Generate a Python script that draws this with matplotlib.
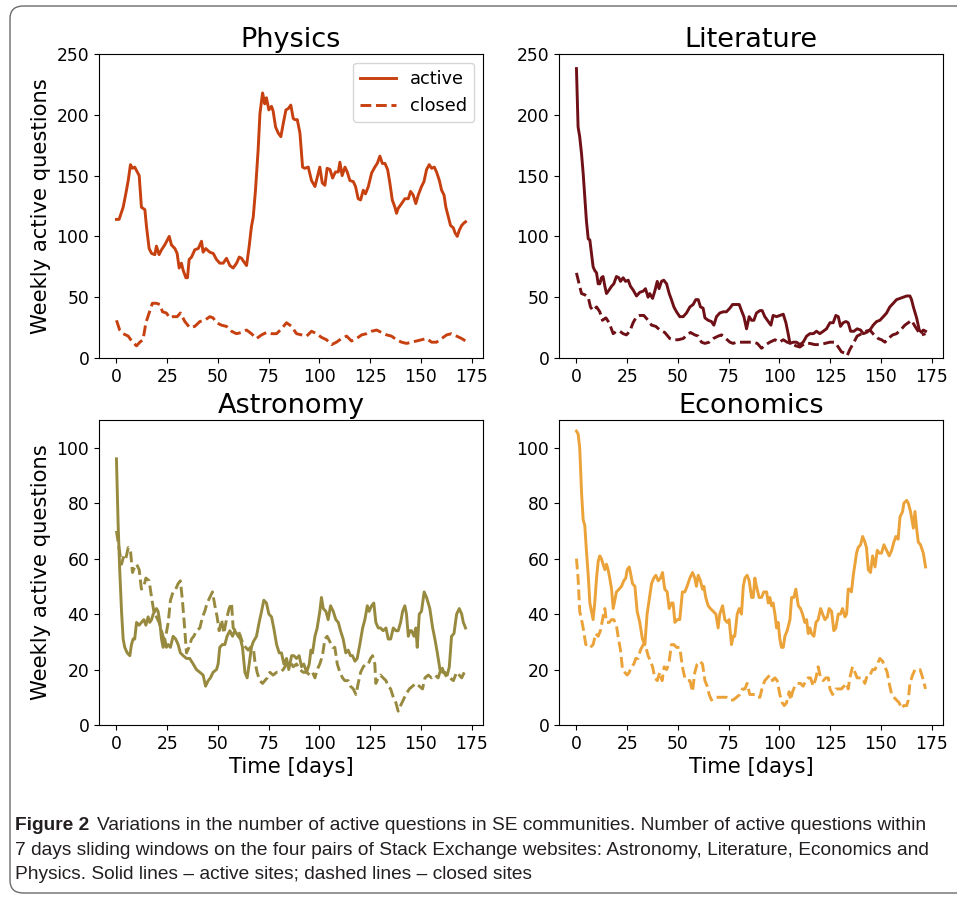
import matplotlib.pyplot as plt
from matplotlib.patches import FancyBboxPatch

# weekly active questions (7-day sliding window), per site, active vs closed
phys_act_t = [0, 1.3, 3.3, 4.6, 5.8, 6.9, 7.9, 9.0, 11.2, 12.3, 14.0, 14.8, 16.1, 17.3, 18.9, 19.7, 21.0, 22.2, 23.8, 26.0,
              27.1, 28.8, 29.9, 30.9, 32.0, 32.9, 34.2, 35.0, 35.8, 37.0, 38.6, 40.3, 41.9, 42.7, 44.0, 46.0, 47.7, 49.3, 50.9, 52.6,
              54.2, 55.9, 57.5, 59.2, 60.5, 61.6, 62.8, 64.1, 65.4, 66.5, 67.4, 68.5, 69.8, 70.7, 72.0, 73.1, 73.9, 75.1, 76.4, 77.2,
              78.4, 79.7, 81.0, 82.2, 83.5, 84.6, 85.9, 87.1, 87.9, 89.1, 90.4, 91.7, 92.8, 94.5, 96.1, 97.8, 99.0, 100.2, 101.4, 102.7,
              103.8, 105.2, 106.5, 107.9, 109.3, 110.1, 111.2, 112.6, 113.7, 115.0, 116.7, 117.8, 119.1, 120.3, 121.6, 122.7, 124.1, 125.7, 127.3, 128.5,
              129.8, 131.0, 132.3, 133.6, 134.7, 135.9, 137.2, 138.0, 138.8, 140.5, 142.1, 143.8, 144.9, 146.2, 147.5, 148.7, 150.3, 151.5, 152.8, 154.1,
              155.3, 156.6, 157.7, 159.1, 160.2, 161.4, 162.3, 163.5, 164.6, 166.0, 166.8, 167.9, 168.9, 170.1, 171.2, 172]
phys_act = [114, 114, 124, 135, 146, 159, 156, 157, 150, 124, 122, 108, 90, 86, 85, 92, 85, 89, 93, 100,
            93, 90, 86, 74, 78, 72, 66, 66, 81, 83, 89, 90, 96, 87, 90, 87, 86, 81, 78, 78,
            82, 76, 74, 78, 83, 82, 79, 76, 92, 108, 116, 138, 171, 201, 218, 209, 214, 204, 207, 203,
            190, 185, 182, 193, 204, 205, 208, 197, 196, 196, 185, 157, 156, 157, 146, 141, 149, 157, 144, 142,
            156, 155, 148, 153, 153, 161, 150, 157, 153, 146, 145, 141, 131, 130, 138, 135, 141, 152, 157, 160,
            166, 160, 160, 155, 144, 130, 124, 119, 123, 127, 131, 131, 137, 134, 127, 134, 141, 145, 155, 159,
            156, 157, 153, 146, 138, 134, 124, 116, 109, 107, 103, 100, 105, 109, 111, 112]

phys_cls_t = [0, 1.6, 3.3, 5.8, 7.9, 9.9, 11.5, 13.1, 14.5, 16.1, 17.7, 19.7, 21.4, 22.7, 24.6, 26.3, 27.9, 29.9, 31.5, 33.7,
              36.1, 38.6, 41.1, 43.5, 46.0, 47.6, 49.3, 51.8, 54.2, 56.7, 59.1, 61.6, 64.1, 66.5, 69.0, 71.5, 73.9, 76.4, 78.9, 81.3,
              83.8, 86.3, 88.7, 91.2, 93.7, 96.1, 98.6, 101.0, 103.5, 106.0, 108.4, 110.9, 113.4, 115.8, 118.3, 120.8, 123.2, 125.7, 128.2, 130.6,
              133.1, 135.5, 138.0, 140.5, 142.9, 145.4, 147.9, 150.3, 152.8, 155.3, 157.7, 160.2, 162.7, 165.1, 167.6, 170.1, 172]
phys_cls = [31, 23, 20, 18, 13, 10, 13, 15, 29, 37, 45, 45, 44, 38, 37, 33, 34, 34, 37, 30,
            25, 26, 30, 31, 34, 33, 29, 27, 26, 22, 20, 21, 23, 20, 16, 19, 21, 20, 20, 24,
            29, 26, 20, 19, 18, 22, 20, 17, 15, 11, 13, 16, 18, 14, 16, 19, 20, 22, 23, 21,
            19, 18, 15, 13, 12, 13, 14, 15, 16, 13, 13, 16, 19, 20, 18, 16, 14]

lit_act_t = [0, 0.8, 1.6, 2.5, 3.3, 4.1, 4.9, 5.8, 6.6, 7.4, 8.2, 9.0, 9.9, 10.7, 11.5, 12.3, 13.1, 14.0, 14.8, 16.1,
             17.3, 18.4, 19.7, 20.9, 21.7, 23.0, 24.2, 25.5, 26.6, 27.9, 29.6, 31.2, 32.9, 34.0, 35.3, 36.1, 37.5, 38.6, 39.8, 40.7,
             41.9, 43.0, 44.4, 45.7, 46.8, 48.0, 49.3, 50.9, 52.6, 54.2, 55.9, 57.5, 58.8, 60.0, 61.1, 62.4, 63.3, 64.9, 66.5, 67.7,
             69.0, 70.6, 72.3, 73.9, 75.6, 76.9, 78.5, 80.2, 81.3, 82.5, 83.8, 85.1, 86.3, 87.4, 88.7, 90.4, 91.5, 92.8, 94.5, 95.8,
             96.9, 98.6, 100.2, 101.9, 103.2, 104.3, 105.2, 106.8, 108.4, 110.1, 111.7, 113.4, 115.0, 116.7, 118.3, 119.9, 121.6, 123.2, 124.9, 126.5,
             127.8, 129.0, 130.1, 131.4, 132.8, 133.9, 135.1, 136.7, 138.3, 140.0, 141.3, 142.9, 144.6, 146.2, 147.9, 149.5, 151.2, 152.8, 154.4, 156.1,
             157.7, 159.4, 161.0, 162.7, 164.3, 165.1, 166.0, 167.6, 168.9, 170.1, 170.9, 172]
lit_act = [238, 190, 182, 168, 152, 133, 113, 98, 97, 86, 75, 72, 70, 61, 61, 66, 67, 59, 53, 56,
           59, 61, 67, 66, 63, 66, 63, 64, 59, 56, 51, 54, 55, 57, 50, 53, 49, 55, 63, 57,
           63, 64, 61, 53, 48, 42, 38, 34, 34, 37, 42, 44, 48, 48, 42, 41, 33, 31, 30, 27,
           34, 37, 38, 38, 41, 44, 44, 44, 39, 34, 24, 34, 31, 31, 37, 39, 39, 34, 30, 27,
           35, 34, 35, 36, 29, 20, 12, 13, 13, 11, 13, 18, 20, 20, 22, 20, 22, 24, 29, 29,
           35, 34, 26, 29, 30, 29, 22, 22, 24, 23, 20, 21, 23, 27, 30, 31, 34, 37, 42, 45,
           48, 49, 50, 51, 51, 48, 42, 33, 23, 21, 23, 22]

lit_cls_t = [0, 1.3, 2.5, 4.1, 5.8, 6.9, 8.2, 9.9, 11.5, 12.8, 14.5, 16.1, 18.1, 19.7, 21.4, 23.0, 24.6, 26.3, 27.9, 29.6,
             31.2, 33.2, 35.3, 37.0, 39.1, 41.1, 43.5, 46.0, 48.0, 50.1, 52.6, 54.5, 56.2, 58.3, 60.0, 61.6, 63.3, 65.4, 67.4, 69.8,
             71.5, 73.6, 75.6, 77.2, 78.9, 80.8, 83.0, 85.1, 87.1, 89.1, 91.2, 93.3, 95.3, 97.8, 99.9, 101.9, 103.8, 106.0, 108.1, 110.1,
             112.5, 115.0, 117.5, 119.9, 122.4, 124.9, 127.3, 129.0, 130.6, 132.3, 133.4, 134.7, 136.4, 138.3, 140.5, 142.6, 144.6, 146.6, 148.7, 150.3,
             152.0, 153.6, 155.8, 157.7, 159.7, 161.8, 163.5, 165.1, 166.8, 168.4, 170.1, 172]
lit_cls = [70, 61, 53, 52, 50, 42, 39, 42, 38, 31, 33, 29, 20, 22, 22, 20, 19, 22, 29, 34,
           35, 35, 31, 27, 26, 23, 21, 16, 15, 15, 16, 19, 21, 19, 18, 13, 12, 13, 16, 18,
           19, 16, 13, 12, 13, 13, 13, 13, 13, 12, 8, 11, 13, 15, 13, 15, 13, 12, 10, 9,
           12, 12, 11, 11, 12, 13, 13, 9, 5, 4, 2, 7, 12, 18, 20, 22, 23, 19, 16, 15,
           13, 16, 19, 20, 23, 27, 29, 31, 26, 22, 19, 20]

ast_act_t = [0, 0.8, 1.6, 2.5, 3.3, 4.1, 5.3, 6.6, 7.4, 8.2, 9.0, 9.9, 11.2, 12.3, 13.5, 14.5, 15.6, 16.4, 17.3, 18.1,
             19.7, 20.5, 21.4, 22.2, 23.0, 23.8, 24.6, 25.5, 26.6, 27.9, 29.2, 30.4, 31.5, 32.9, 34.5, 36.1, 37.8, 39.4, 41.1, 42.7,
             43.9, 45.2, 46.3, 47.6, 49.3, 50.1, 50.9, 52.2, 53.4, 54.5, 55.9, 57.2, 58.3, 60.0, 61.1, 62.1, 63.3, 64.4, 65.4, 66.5,
             67.4, 69.0, 70.3, 71.5, 72.6, 73.9, 75.1, 76.4, 77.5, 78.9, 80.2, 81.3, 82.5, 83.8, 84.9, 86.3, 87.4, 88.7, 90.0, 91.2,
             92.3, 93.7, 95.0, 95.8, 96.6, 97.8, 98.9, 100.2, 101.0, 101.9, 103.2, 104.3, 105.5, 106.8, 108.1, 109.3, 110.4, 111.7, 113.0, 114.2,
             115.3, 116.3, 117.5, 118.6, 119.9, 121.3, 122.4, 123.6, 124.5, 125.7, 126.8, 127.8, 129.0, 130.1, 131.4, 132.8, 133.9, 135.1, 136.4, 137.7,
             138.8, 140.0, 141.0, 142.1, 142.9, 143.8, 144.6, 145.4, 146.6, 147.5, 148.2, 149.2, 150.3, 151.6, 152.8, 154.4, 155.8, 156.9, 158.1, 159.4,
             160.7, 161.8, 163.0, 164.0, 165.1, 166.3, 167.6, 168.9, 170.1, 170.9, 172]
ast_act = [96, 73, 56, 41, 31, 28, 26, 25, 29, 31, 31, 37, 36, 37, 38, 36, 39, 37, 38, 40,
           42, 41, 37, 31, 28, 31, 28, 29, 28, 32, 31, 29, 26, 25, 24, 24, 22, 20, 19, 18,
           14, 16, 17, 19, 20, 22, 28, 29, 29, 32, 34, 32, 34, 32, 31, 28, 19, 17, 22, 28,
           30, 32, 37, 41, 45, 44, 40, 39, 35, 29, 26, 26, 22, 24, 20, 25, 25, 24, 25, 21,
           22, 19, 22, 27, 26, 32, 35, 41, 46, 42, 41, 38, 43, 41, 38, 37, 34, 31, 26, 27,
           25, 25, 23, 24, 29, 35, 38, 43, 41, 43, 44, 37, 35, 35, 34, 35, 31, 31, 35, 34,
           34, 37, 41, 43, 40, 32, 34, 34, 32, 35, 28, 40, 41, 48, 46, 42, 35, 31, 26, 20,
           19, 19, 18, 21, 32, 33, 40, 42, 40, 37, 35]

ast_cls_t = [0, 0.8, 2.5, 3.6, 4.6, 5.8, 6.9, 7.9, 9.0, 9.9, 11.2, 12.3, 13.5, 14.5, 16.1, 17.3, 18.4, 19.7, 21.0, 22.2,
             23.3, 24.3, 25.5, 26.6, 27.9, 29.2, 30.4, 31.5, 32.5, 33.7, 34.5, 35.7, 37.0, 38.1, 39.4, 41.1, 42.4, 43.5, 44.7, 46.0,
             47.3, 48.5, 49.6, 50.6, 51.8, 52.9, 54.2, 55.5, 56.7, 57.5, 58.7, 60.0, 61.1, 62.4, 63.7, 64.9, 66.0, 67.4, 68.2, 69.3,
             70.6, 72.0, 73.1, 74.3, 75.6, 77.2, 78.9, 80.5, 82.2, 83.8, 85.4, 87.1, 88.7, 90.4, 92.0, 93.7, 95.3, 96.6, 97.8, 98.9,
             100.2, 101.5, 102.7, 103.8, 105.2, 106.5, 107.6, 108.8, 110.1, 111.4, 112.5, 114.2, 115.3, 116.7, 118.0, 119.1, 120.3, 121.6, 122.9, 124.1,
             125.2, 126.2, 127.3, 127.8, 129.0, 130.1, 131.4, 132.8, 133.9, 135.1, 136.4, 137.7, 138.8, 140.0, 141.3, 142.6, 144.3, 145.9, 147.5, 149.2,
             150.8, 152.0, 153.6, 155.3, 156.9, 158.5, 160.2, 161.3, 163.0, 164.3, 166.0, 167.6, 168.9, 170.1, 172]
ast_cls = [70, 66, 58, 61, 60, 64, 63, 55, 57, 58, 56, 49, 50, 53, 52, 46, 41, 39, 37, 34,
           31, 32, 37, 45, 48, 49, 51, 52, 45, 34, 26, 28, 31, 32, 34, 35, 39, 41, 44, 46,
           48, 43, 39, 34, 38, 33, 38, 42, 44, 35, 34, 34, 32, 29, 28, 27, 28, 28, 23, 19,
           16, 15, 16, 17, 19, 18, 19, 19, 20, 22, 23, 21, 22, 20, 19, 19, 18, 19, 17, 20,
           22, 25, 31, 32, 30, 28, 28, 22, 19, 17, 16, 16, 14, 13, 11, 15, 19, 21, 22, 22,
           24, 25, 22, 15, 17, 18, 17, 16, 14, 13, 10, 8, 5, 7, 9, 11, 13, 14, 15, 14,
           13, 17, 18, 17, 18, 17, 21, 19, 17, 17, 16, 19, 18, 17, 20]

eco_act_t = [0, 0.8, 1.6, 2.5, 3.3, 4.1, 4.9, 5.8, 6.6, 7.4, 8.2, 9.0, 9.9, 10.7, 11.5, 12.3, 13.1, 14.0, 14.8, 15.6,
             16.4, 17.3, 18.1, 18.9, 19.7, 21.0, 22.2, 23.3, 24.3, 25.0, 26.0, 26.6, 27.6, 28.8, 29.9, 31.2, 32.5, 33.7, 34.8, 35.8,
             37.0, 38.1, 39.1, 40.3, 41.4, 42.4, 43.5, 44.7, 45.7, 46.8, 47.6, 48.5, 49.6, 50.9, 52.2, 53.4, 54.5, 55.9, 57.2, 58.3,
             59.1, 60.0, 61.1, 62.1, 62.8, 63.7, 64.9, 66.0, 67.4, 68.7, 69.8, 70.6, 72.0, 73.1, 74.3, 75.2, 76.4, 77.2, 78.0, 79.2,
             80.2, 81.3, 82.2, 83.0, 84.1, 85.1, 86.3, 87.1, 87.9, 88.7, 90.0, 91.2, 92.3, 93.7, 94.5, 95.3, 96.1, 96.9, 97.8, 98.6,
             99.4, 100.2, 101.0, 101.9, 102.7, 103.8, 105.2, 106.0, 107.1, 108.1, 109.3, 110.4, 111.4, 112.5, 113.4, 114.2, 115.0, 115.8, 117.0, 118.0,
             119.1, 120.3, 121.3, 122.4, 123.6, 124.5, 125.7, 126.8, 127.8, 129.0, 130.1, 131.1, 132.3, 133.1, 133.9, 134.7, 135.5, 136.4, 137.2, 138.0,
             138.8, 140.0, 141.0, 142.1, 142.9, 143.8, 144.9, 145.9, 147.1, 148.2, 149.2, 150.3, 151.5, 152.8, 154.1, 155.3, 156.4, 157.4, 158.5, 159.4,
             160.7, 161.3, 162.7, 163.5, 164.6, 166.0, 166.8, 167.6, 168.4, 169.5, 170.9, 172]
eco_act = [106, 105, 100, 84, 74, 72, 63, 54, 44, 41, 38, 44, 53, 59, 61, 60, 58, 56, 58, 56,
           53, 49, 42, 45, 48, 49, 50, 52, 53, 56, 57, 55, 51, 50, 41, 37, 31, 29, 40, 45,
           51, 53, 54, 52, 53, 55, 49, 48, 42, 44, 44, 37, 38, 38, 48, 48, 50, 53, 55, 53,
           50, 54, 52, 49, 50, 46, 43, 42, 41, 40, 35, 40, 43, 38, 37, 38, 29, 32, 32, 40,
           42, 40, 50, 53, 54, 52, 46, 46, 53, 50, 46, 46, 48, 48, 44, 46, 43, 44, 40, 35,
           37, 31, 28, 28, 32, 34, 38, 46, 46, 49, 43, 42, 40, 37, 38, 33, 35, 33, 32, 37,
           38, 42, 40, 38, 39, 42, 41, 34, 35, 40, 40, 42, 39, 40, 49, 49, 48, 54, 58, 62,
           64, 65, 68, 66, 64, 56, 55, 61, 57, 63, 62, 62, 65, 63, 61, 63, 66, 68, 67, 75,
           77, 80, 81, 80, 77, 71, 77, 71, 66, 65, 62, 57]

eco_cls_t = [0, 0.8, 1.6, 2.5, 3.3, 4.6, 5.8, 6.9, 8.2, 9.5, 10.7, 11.8, 13.1, 14.0, 14.8, 16.1, 17.3, 18.4, 19.7, 20.5,
             21.7, 22.7, 23.8, 25.0, 26.0, 27.1, 28.3, 29.2, 30.4, 31.5, 32.9, 34.2, 35.3, 36.5, 37.5, 38.6, 39.8, 41.1, 42.2, 43.2,
             44.4, 45.5, 46.8, 48.0, 49.3, 50.9, 52.2, 53.4, 54.5, 55.9, 57.2, 58.3, 59.5, 60.8, 62.1, 63.3, 64.4, 65.4, 66.5, 68.2,
             69.8, 71.5, 72.6, 73.9, 75.6, 77.2, 78.9, 80.5, 81.8, 83.0, 84.1, 85.4, 86.8, 87.9, 89.1, 90.4, 91.7, 92.8, 94.0, 95.3,
             96.6, 97.8, 98.9, 100.2, 101.4, 102.4, 103.5, 104.8, 105.5, 106.5, 107.6, 108.8, 110.4, 111.7, 113.0, 114.2, 115.3, 116.7, 118.0, 119.1,
             120.3, 121.6, 122.9, 124.1, 124.9, 126.2, 127.8, 129.5, 130.6, 131.8, 133.1, 133.9, 134.7, 136.0, 137.2, 138.3, 139.7, 141.0, 142.1, 143.3,
             144.6, 145.9, 147.1, 148.2, 149.5, 150.8, 152.0, 153.1, 154.1, 155.3, 156.4, 157.7, 159.0, 160.2, 161.3, 162.7, 163.5, 164.3, 165.6, 166.8,
             167.9, 169.3, 170.6, 172]
eco_cls = [60, 53, 41, 38, 35, 29, 29, 28, 29, 33, 32, 34, 39, 42, 37, 37, 38, 38, 36, 32,
           27, 20, 19, 18, 19, 21, 22, 24, 24, 27, 29, 28, 25, 23, 21, 17, 16, 19, 16, 21,
           20, 22, 29, 29, 28, 28, 21, 17, 16, 16, 12, 19, 22, 23, 22, 16, 14, 11, 9, 10,
           10, 10, 10, 10, 9, 9, 10, 11, 13, 13, 15, 11, 11, 11, 10, 10, 14, 16, 17, 18,
           16, 17, 16, 11, 8, 7, 8, 12, 9, 12, 14, 15, 15, 14, 16, 17, 17, 14, 17, 21,
           17, 16, 17, 17, 13, 11, 13, 13, 13, 14, 15, 13, 17, 21, 19, 17, 17, 17, 15, 18,
           18, 20, 20, 22, 24, 23, 21, 19, 15, 11, 10, 9, 8, 6, 7, 7, 9, 15, 18, 20,
           20, 20, 17, 13]

W, H = 957, 899
fig = plt.figure(figsize=(W / 100, H / 100), dpi=100)

# thin rounded frame round the whole figure, as on the journal page
frame = FancyBboxPatch((10 / W, 6 / H), 1.2, 887 / H, boxstyle='round,pad=0,rounding_size=0.014',
                       transform=fig.transFigure, fc='none', ec='#6b6b6b', lw=1.0, clip_on=False)
fig.patches.append(frame)

TICK = 12.3
LAB = 15.2
TIT = 19.5

panels = [
    ('Physics', phys_act_t, phys_act, phys_cls_t, phys_cls, '#c7400f', (99, 54, 483, 358), 250, 50),
    ('Literature', lit_act_t, lit_act, lit_cls_t, lit_cls, '#6e1016', (559, 54, 943, 358), 250, 50),
    ('Astronomy', ast_act_t, ast_act, ast_cls_t, ast_cls, '#978a3f', (99, 420, 483, 725), 110, 20),
    ('Economics', eco_act_t, eco_act, eco_cls_t, eco_cls, '#eba238', (559, 420, 943, 725), 110, 20),
]

for i, (name, ta, ya, tc, yc, col, box, ymax, ystep) in enumerate(panels):
    x0, y0, x1, y1 = box
    ax = fig.add_axes([x0 / W, 1 - y1 / H, (x1 - x0) / W, (y1 - y0) / H])
    ax.plot(ta, ya, color=col, lw=2.1, label='active')
    ax.plot(tc, yc, color=col, lw=2.1, ls='--', label='closed')
    ax.set_xlim(-8.6, 180.6)
    ax.set_ylim(0, ymax)
    ax.set_xticks(range(0, 176, 25))
    ax.set_yticks(range(0, ymax + 1, ystep))
    ax.tick_params(labelsize=TICK)
    ax.set_title(name, fontsize=TIT, pad=5)
    if i % 2 == 0:
        ax.set_ylabel('Weekly active questions', fontsize=LAB)
    if i >= 2:
        ax.set_xlabel('Time [days]', fontsize=LAB, labelpad=3)
    if i == 0:
        ax.legend(loc='upper right', fontsize=12.8)

# caption below the panels
cap = ['Liberation Sans', 'DejaVu Sans']
CAP = 13.8
fig.canvas.draw()
r = fig.canvas.get_renderer()
head = fig.text(15 / W, 1 - 830 / H, 'Figure 2', fontsize=CAP, fontweight='bold', family=cap, color='#231f20')
bb = head.get_window_extent(renderer=r)
fig.text(bb.x1 / W + 8 / W, 1 - 830 / H,
         'Variations in the number of active questions in SE communities. Number of active questions within',
         fontsize=CAP, family=cap, color='#231f20')
fig.text(15 / W, 1 - 855 / H,
         '7 days sliding windows on the four pairs of Stack Exchange websites: Astronomy, Literature, Economics and',
         fontsize=CAP, family=cap, color='#231f20')
fig.text(15 / W, 1 - 879 / H,
         'Physics. Solid lines \u2013 active sites; dashed lines \u2013 closed sites',
         fontsize=CAP, family=cap, color='#231f20')

fig.savefig('out.png', dpi=100)
